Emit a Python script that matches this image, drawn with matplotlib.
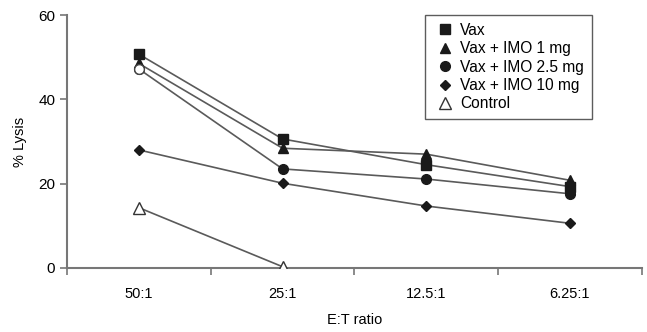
import matplotlib
matplotlib.use("Agg")
import matplotlib.pyplot as plt
import numpy as np
from matplotlib.lines import Line2D

plt.rcParams['font.family'] = ['Liberation Sans', 'DejaVu Sans']

categories = ["50:1", "25:1", "12.5:1", "6.25:1"]
vax = [50.7, 30.6, 24.5, 19.3]
imo1 = [48.5, 28.4, 27.0, 20.8]
imo25 = [47.2, 23.5, 21.1, 17.6]
imo10 = [28.0, 20.1, 14.7, 10.6]
control = [14.3, 0.3]

fig = plt.figure(figsize=(6.47, 3.32), dpi=100)
ax = fig.add_axes([0.1036, 0.1928, 0.8884, 0.762])

x = np.arange(len(categories))
lc = '#5a5a5a'
mc = '#1a1a1a'
kw = dict(color=lc, lw=1.2, markerfacecolor=mc, markeredgecolor=mc)
ax.plot(x, imo10, marker='D', ms=5, label='Vax + IMO 10 mg', zorder=3, **kw)
ax.plot(x, imo25, marker='o', ms=7, label='Vax + IMO 2.5 mg', zorder=3, **kw)
ax.plot(x[:1], imo25[:1], marker='o', ms=7, ls='none', markerfacecolor='white',
        markeredgecolor='#444444', zorder=4)
ax.plot(x, imo1, marker='^', ms=7, label='Vax + IMO 1 mg', zorder=3, **kw)
ax.plot(x, vax, marker='s', ms=7, label='Vax', zorder=3, **kw)
ax.plot(x[:len(control)], control, marker='^', ms=8, color=lc, lw=1.2,
        markerfacecolor='white', markeredgecolor='#333333', label='Control', zorder=3)

ax.set_xlim(-0.5, 3.5)
ax.set_ylim(0, 60)
ax.set_yticks([0, 20, 40, 60])
ax.set_xticks(np.arange(-0.5, 3.6, 1.0))
ax.set_xticklabels([])
ax.set_xticks(x, minor=True)
ax.set_xticklabels(categories, minor=True)
ax.tick_params(axis='x', which='minor', length=0, pad=14, labelsize=10.5)
ax.tick_params(axis='x', which='major', length=5, color='#777777', width=1.2)
ax.tick_params(axis='y', length=5, color='#777777', width=1.2, labelsize=11)
for s in ['top', 'right']:
    ax.spines[s].set_visible(False)
for s in ['left', 'bottom']:
    ax.spines[s].set_color('#777777')
    ax.spines[s].set_linewidth(1.5)

ax.set_ylabel('% Lysis', fontsize=10.5, labelpad=8)
ax.set_xlabel('E:T ratio', fontsize=10.5, labelpad=8)

handles, labels = ax.get_legend_handles_labels()
order = ['Vax', 'Vax + IMO 1 mg', 'Vax + IMO 2.5 mg', 'Vax + IMO 10 mg', 'Control']
hmap = dict(zip(labels, handles))
leg_handles = []
for lab in order:
    h = hmap[lab]
    leg_handles.append(Line2D([], [], ls='none', marker=h.get_marker(), ms=h.get_markersize(),
                              markerfacecolor=h.get_markerfacecolor(),
                              markeredgecolor=h.get_markeredgecolor()))
leg = ax.legend(leg_handles, order, loc='upper left', bbox_to_anchor=(0.623, 1.0),
                borderaxespad=0, frameon=True, fancybox=False, fontsize=11.2,
                handlelength=1.5, handletextpad=0.25, labelspacing=0.22, borderpad=0.5)
leg.get_frame().set_edgecolor('#333333')
leg.get_frame().set_linewidth(1.0)

fig.savefig('out.png', dpi=100)
